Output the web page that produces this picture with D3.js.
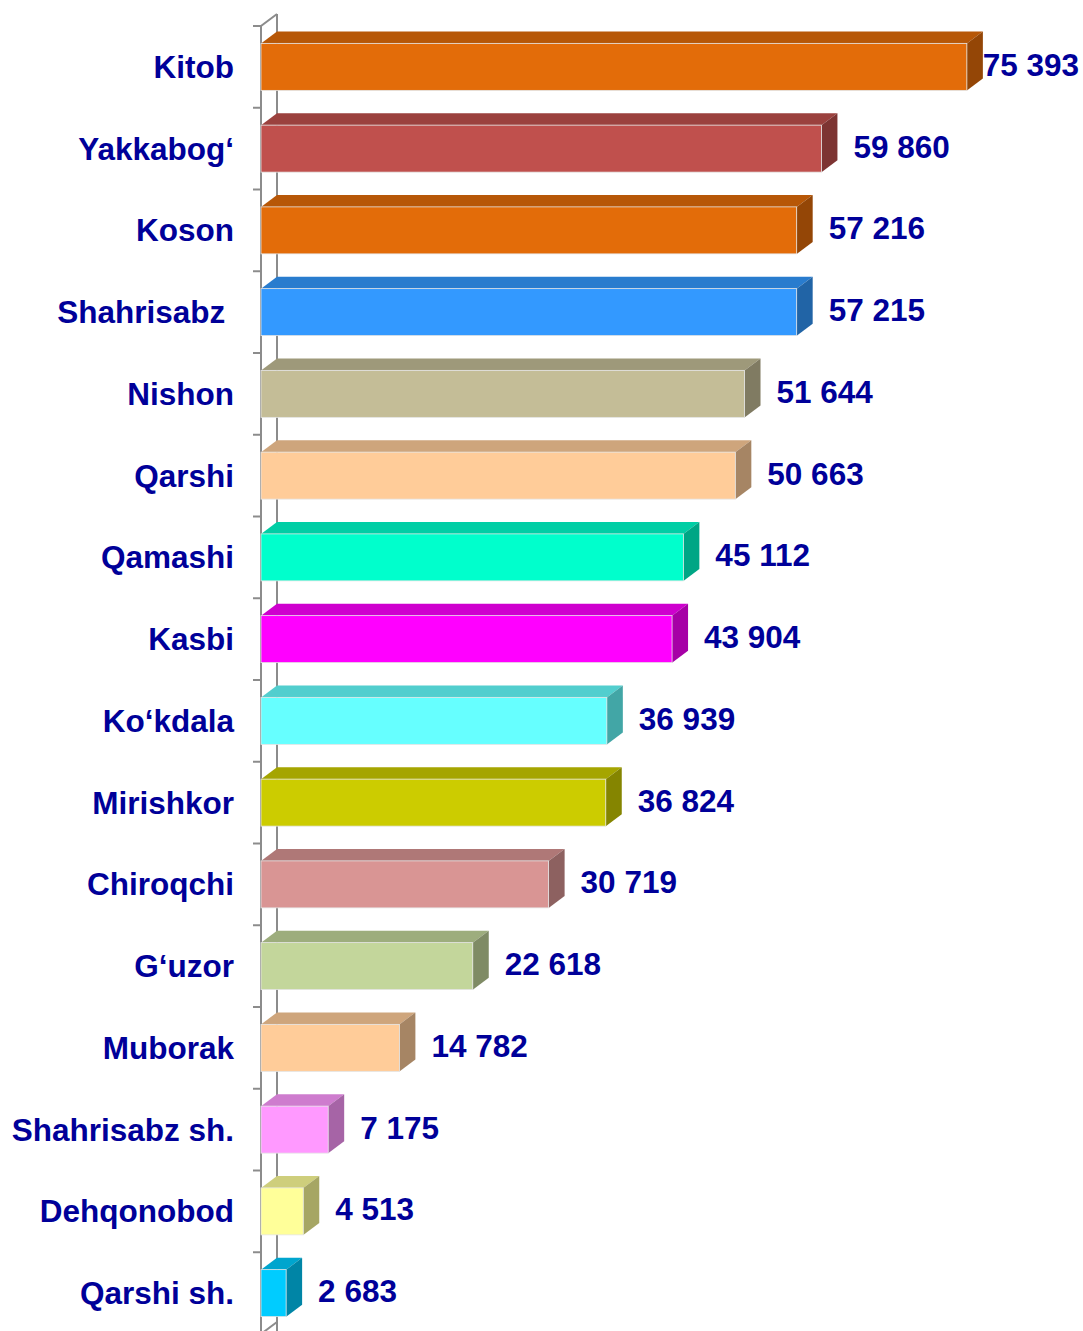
<!DOCTYPE html>
<html>
<head>
<meta charset="utf-8">
<script src="https://cdn.jsdelivr.net/npm/d3@7"></script>
<style>
  body { margin: 0; background: #fff; }
  svg text { font-family: "Liberation Sans", Arial, sans-serif; font-weight: bold; fill: #000099; }
</style>
</head>
<body>
<div id="chart"></div>
<script>
var categories = ["Kitob", "Yakkabog‘", "Koson", "Shahrisabz ", "Nishon", "Qarshi", "Qamashi", "Kasbi",
    "Ko‘kdala", "Mirishkor", "Chiroqchi", "G‘uzor", "Muborak", "Shahrisabz sh.", "Dehqonobod", "Qarshi sh."];
var values = [75393, 59860, 57216, 57215, 51644, 50663, 45112, 43904,
    36939, 36824, 30719, 22618, 14782, 7175, 4513, 2683];
var colors = ["#E36C09", "#C0504D", "#E36C09", "#3399FF", "#C4BD97", "#FFCC99", "#00FFCC", "#FF00FF",
    "#66FFFF", "#CCCC00", "#D99594", "#C3D69B", "#FFCC99", "#FF99FF", "#FFFF99", "#00CCFF"];

var width = 1083, height = 1331;
var dx = 16, dy = 12; // 3d depth

var svg = d3.select("#chart").append("svg")
    .attr("width", width)
    .attr("height", height);

var x = d3.scaleLinear().domain([0, 80000]).range([261, 1010]);
var y = d3.scaleBand().domain(categories).range([26, 26 + 16 * 81.75]);

var fmt = d3.formatLocale({ decimal: ",", thousands: " ", grouping: [3], currency: ["", ""] }).format(",d");

// axis walls
var axisG = svg.append("g").attr("stroke", "#8c8c8c").attr("stroke-width", 2).attr("fill", "none");
var yEnd = y.range()[1];
axisG.append("path")
    .attr("d", "M" + (x(0) + dx) + "," + (y.range()[0] - dy) + "L" + (x(0) + dx) + "," + height);
axisG.append("path")
    .attr("d", "M" + x(0) + "," + height + "L" + x(0) + "," + y.range()[0] + "L" + (x(0) + dx) + "," + (y.range()[0] - dy));
axisG.append("path")
    .attr("d", "M" + x(0) + "," + yEnd + "L" + (x(0) + dx) + "," + (yEnd - dy));
axisG.selectAll(".tick")
    .data(categories.map(function(c) { return y(c); }))
    .enter().append("line")
    .attr("x1", x(0) - 8).attr("x2", x(0))
    .attr("y1", function(d) { return d; })
    .attr("y2", function(d) { return d; });

// bars
var barH = 47;
var bars = svg.append("g").selectAll("g.bar")
    .data(categories)
    .enter().append("g")
    .attr("class", "bar");

function yTop(c) { return y(c) + (y.bandwidth() - barH) / 2; }

bars.append("path")
    .attr("fill", function(d, i) { return d3.color(colors[i]).darker(0.6); })
    .attr("d", function(d, i) {
        var x0 = x(0), x1 = x(values[i]), t = yTop(d);
        return "M" + x0 + "," + t + "L" + (x0 + dx) + "," + (t - dy) + "L" + (x1 + dx) + "," + (t - dy) + "L" + x1 + "," + t + "Z";
    });
bars.append("path")
    .attr("fill", function(d, i) { return d3.color(colors[i]).darker(1.2); })
    .attr("d", function(d, i) {
        var x1 = x(values[i]), t = yTop(d);
        return "M" + x1 + "," + t + "L" + (x1 + dx) + "," + (t - dy) + "L" + (x1 + dx) + "," + (t - dy + barH) + "L" + x1 + "," + (t + barH) + "Z";
    });
bars.append("rect")
    .attr("x", x(0))
    .attr("y", function(d) { return yTop(d); })
    .attr("width", function(d, i) { return x(values[i]) - x(0); })
    .attr("height", barH)
    .attr("fill", function(d, i) { return colors[i]; })
    .attr("stroke", "#e4e4e4")
    .attr("stroke-width", 0.8);

// category labels
svg.append("g").selectAll("text")
    .data(categories)
    .enter().append("text")
    .attr("x", 234)
    .attr("y", function(d) { return y(d) + y.bandwidth() / 2; })
    .attr("dy", "0.35em")
    .attr("text-anchor", "end")
    .style("white-space", "pre")
    .attr("font-size", 31.5)
    .text(function(d) { return d; });

// value labels
svg.append("g").selectAll("text")
    .data(categories)
    .enter().append("text")
    .attr("y", function(d) { return y(d) + y.bandwidth() / 2 - 2; })
    .attr("dy", "0.35em")
    .attr("font-size", 31.5)
    .text(function(d, i) { return fmt(values[i]); })
    .attr("x", function(d, i) {
        var w = this.getComputedTextLength();
        return Math.min(x(values[i]) + dx + 16, width - 4 - w);
    });
</script>
</body>
</html>
